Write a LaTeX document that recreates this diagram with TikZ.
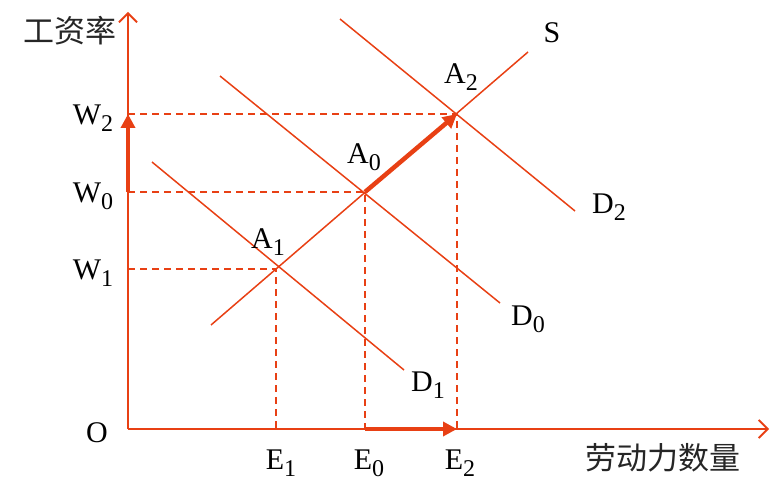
\documentclass[tikz,border=0pt]{standalone}
\usepackage{fontspec}
\setmainfont{Liberation Serif}
\newfontfamily\cjk{Noto Sans CJK SC}
\usetikzlibrary{arrows.meta}
\definecolor{ored}{RGB}{232,64,20}
\newcommand\lsub[1]{\raisebox{-7pt}{\fontsize{24}{24}\selectfont #1}}
\begin{document}
\begin{tikzpicture}[x=1pt,y=-1pt,
  thin line/.style={draw=ored,line width=1.5pt},
  dash line/.style={draw=ored,line width=1.5pt,dash pattern=on 7pt off 5pt},
  thick arrow/.style={draw=ored,line width=4.5pt,-{Triangle[length=14pt,width=14pt]}},
  axis/.style={draw=ored,line width=1.8pt,-{Straight Barb[length=9pt,width=18pt,line width=1.8pt]}},
  lab/.style={font=\fontsize{30}{32}\selectfont,inner sep=0pt},
  clab/.style={font=\cjk\fontsize{31}{34}\selectfont,inner sep=0pt,text=black!85}]
\useasboundingbox (0,0) rectangle (779,497);
% axes
\coordinate (O) at (128,429);
\coordinate (ytop) at (128,12);
\coordinate (xend) at (769,429);
\draw[axis] (O) -- (ytop);
\draw[axis] (O) -- (xend);
% points
\coordinate (A1) at (276,269);
\coordinate (A0) at (365,192);
\coordinate (A2) at (457,114);
\coordinate (W1) at (128,269);
\coordinate (W0) at (128,192);
\coordinate (W2) at (128,114);
\coordinate (E1) at (276,429);
\coordinate (E0) at (365,429);
\coordinate (E2) at (457,429);
% supply and demand
\coordinate (Ss) at (211,325);
\coordinate (Se) at (528,52);
\draw[thin line] (Ss) -- (Se);
\coordinate (D1s) at (152,162);
\coordinate (D1e) at (404,370);
\draw[thin line] (D1s) -- (D1e);
\coordinate (D0s) at (220,76);
\coordinate (D0e) at (500,303);
\draw[thin line] (D0s) -- (D0e);
\coordinate (D2s) at (340,19);
\coordinate (D2e) at (575,211);
\draw[thin line] (D2s) -- (D2e);
% dashed guides
\draw[dash line] (W2) -- (A2) -- (E2);
\draw[dash line] (W0) -- (A0) -- (E0);
\draw[dash line] (W1) -- (A1) -- (E1);
% thick arrows
\draw[thick arrow] (W0) -- (W2);
\draw[thick arrow] (E0) -- (E2);
\draw[thick arrow] (A0) -- (A2);
% labels
\node[clab] (ylab) at (70,31) {工资率};
\node[clab] (xlab) at (663,458) {劳动力数量};
\node[lab] (lW2) at (93,118) {W\lsub{2}};
\node[lab] (lW0) at (93,196) {W\lsub{0}};
\node[lab] (lW1) at (93,273) {W\lsub{1}};
\node[lab] (lO) at (97,433) {O};
\node[lab] (lE1) at (281,463) {E\lsub{1}};
\node[lab] (lE0) at (369,463) {E\lsub{0}};
\node[lab] (lE2) at (460,463) {E\lsub{2}};
\node[lab] (lS) at (552,33) {S};
\node[lab] (lA2) at (461,77) {A\lsub{2}};
\node[lab] (lA0) at (364,157) {A\lsub{0}};
\node[lab] (lA1) at (268,242) {A\lsub{1}};
\node[lab] (lD2) at (609,207) {D\lsub{2}};
\node[lab] (lD0) at (528,319) {D\lsub{0}};
\node[lab] (lD1) at (428,385) {D\lsub{1}};
\end{tikzpicture}
\end{document}
